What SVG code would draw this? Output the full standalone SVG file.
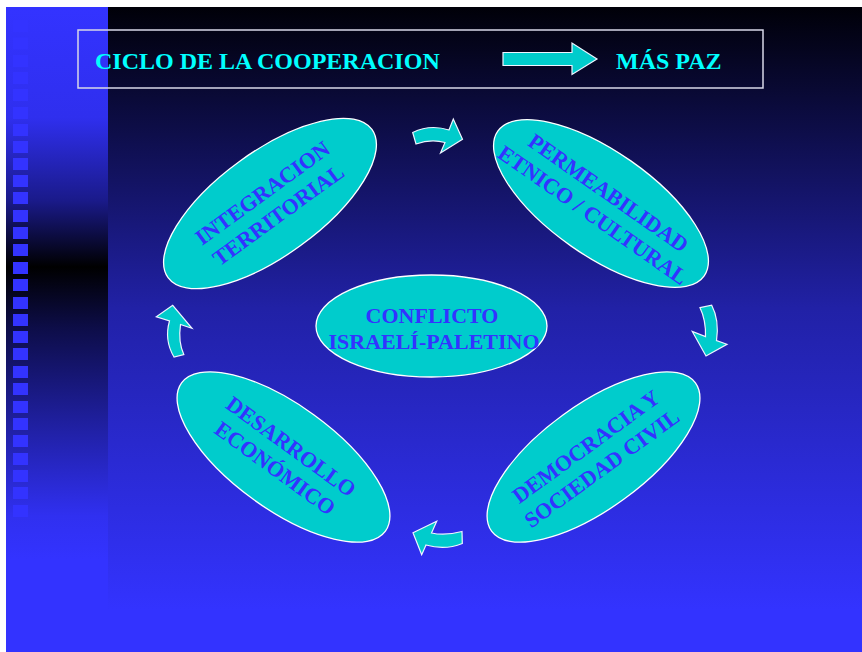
<svg xmlns="http://www.w3.org/2000/svg" width="862" height="652" viewBox="0 0 862 652">
<defs>
<linearGradient id="bg" x1="0" y1="7" x2="0" y2="610" gradientUnits="userSpaceOnUse">
<stop offset="0" stop-color="#000008"/>
<stop offset="0.5" stop-color="#2121a6"/>
<stop offset="1" stop-color="#3333ff"/>
</linearGradient>
<linearGradient id="strip" x1="0" y1="7" x2="0" y2="560" gradientUnits="userSpaceOnUse">
<stop offset="0" stop-color="#3333ff"/>
<stop offset="0.2" stop-color="#2f2fee"/>
<stop offset="0.35" stop-color="#1a1a8a"/>
<stop offset="0.47" stop-color="#000000"/>
<stop offset="0.58" stop-color="#0d0d48"/>
<stop offset="0.75" stop-color="#1f1f9e"/>
<stop offset="0.92" stop-color="#3030f0"/>
<stop offset="1" stop-color="#3333ff"/>
</linearGradient>
<style>
.ell{fill:#00cccc;stroke:#ffffff;stroke-width:1.3}
.lbl{font-family:"Liberation Serif","Times New Roman",serif;font-weight:bold;font-size:22px;fill:#3333ff;text-anchor:middle}
.ttl{font-family:"Liberation Serif","Times New Roman",serif;font-weight:bold;font-size:24px;fill:#00ffff}
.arr{fill:#00cccc;stroke:#eef4ff;stroke-width:1.2;stroke-linejoin:miter}
.sq{fill:#3333ff}
</style>
</defs>
<rect x="0" y="0" width="862" height="652" fill="#ffffff"/>
<rect x="6" y="7" width="856" height="645" fill="url(#bg)"/>
<rect x="6" y="7" width="102" height="645" fill="url(#strip)"/>
<g id="squares">
<rect class="sq" x="13" y="20" width="15" height="12"/>
<rect class="sq" x="13" y="37.5" width="15" height="12"/>
<rect class="sq" x="13" y="55" width="15" height="12"/>
<rect class="sq" x="13" y="72" width="15" height="12"/>
<rect class="sq" x="13" y="89" width="15" height="12"/>
<rect class="sq" x="13" y="107" width="15" height="12"/>
<rect class="sq" x="13" y="124" width="15" height="12"/>
<rect class="sq" x="13" y="141" width="15" height="12"/>
<rect class="sq" x="13" y="158" width="15" height="12"/>
<rect class="sq" x="13" y="175" width="15" height="12"/>
<rect class="sq" x="13" y="192" width="15" height="12"/>
<rect class="sq" x="13" y="210" width="15" height="12"/>
<rect class="sq" x="13" y="227" width="15" height="12"/>
<rect class="sq" x="13" y="244" width="15" height="12"/>
<rect class="sq" x="13" y="262" width="15" height="12"/>
<rect class="sq" x="13" y="279" width="15" height="12"/>
<rect class="sq" x="13" y="297" width="15" height="12"/>
<rect class="sq" x="13" y="314" width="15" height="12"/>
<rect class="sq" x="13" y="331" width="15" height="12"/>
<rect class="sq" x="13" y="348" width="15" height="12"/>
<rect class="sq" x="13" y="366" width="15" height="12"/>
<rect class="sq" x="13" y="383" width="15" height="12"/>
<rect class="sq" x="13" y="401" width="15" height="12"/>
<rect class="sq" x="13" y="418" width="15" height="12"/>
<rect class="sq" x="13" y="435" width="15" height="12"/>
<rect class="sq" x="13" y="453" width="15" height="12"/>
<rect class="sq" x="13" y="470" width="15" height="12"/>
<rect class="sq" x="13" y="487" width="15" height="12"/>
<rect class="sq" x="13" y="505" width="15" height="12"/>
</g>
<g id="title">
<rect x="78" y="30" width="685" height="58" fill="none" stroke="#d8d8e8" stroke-width="1.5"/>
<text class="ttl" x="95" y="69">CICLO DE LA COOPERACION</text>
<path class="arr" d="M503,52.5 L572,52.5 L572,43 L597,59 L572,74.5 L572,65.5 L503,65.5 Z"/>
<text class="ttl" x="616" y="69">MÁS PAZ</text>
</g>
<g id="connectors">
<path class="arr" d="M412.7,132.5 Q430,124 449,130 L453.3,119 L462.5,139.3 L440.5,153 L445,142.5 Q431,138.5 416,144 Z"/>
<path class="arr" d="M700,307.7 L711.7,305.2 Q719.5,320 716.5,340.5 L727,344.3 L706,356 L692.3,331.5 L705.5,336.6 Q706,320 700,307.7 Z"/>
<path class="arr" d="M462,531.5 Q445,536 431.5,533 L436.7,521.3 L413,532.7 L421.7,554.7 L426,545 Q445,550.5 462.3,543.5 Z"/>
<path class="arr" d="M174,357 Q164,340 169.5,321 L156.3,316.7 L172.7,305.3 L192,328.3 L180.5,324.5 Q178,342 183.8,354.5 Z"/>
</g>
<g id="n-integracion" transform="translate(270,203.5) rotate(-36)">
<ellipse class="ell" cx="0" cy="0" rx="126" ry="52"/>
<text class="lbl" x="0" y="-5.5">INTEGRACION</text>
<text class="lbl" x="0" y="21.5">TERRITORIAL</text>
</g>
<g id="n-permeabilidad" transform="translate(601,203.5) rotate(35)">
<ellipse class="ell" cx="0" cy="0" rx="126" ry="52"/>
<text class="lbl" x="0" y="-5.5">PERMEABILIDAD</text>
<text class="lbl" x="0" y="21.5">ETNICO / CULTURAL</text>
</g>
<g id="n-conflicto">
<ellipse class="ell" cx="431.5" cy="326" rx="115.5" ry="51"/>
<text class="lbl" x="432" y="322.5">CONFLICTO</text>
<text class="lbl" x="434" y="348.5">ISRAELÍ-PALETINO</text>
</g>
<g id="n-desarrollo" transform="translate(283.5,457) rotate(36)">
<ellipse class="ell" cx="0" cy="0" rx="126" ry="52"/>
<text class="lbl" x="0" y="-5.5">DESARROLLO</text>
<text class="lbl" x="0" y="21.5">ECONÓMICO</text>
</g>
<g id="n-democracia" transform="translate(593.5,457) rotate(-36)">
<ellipse class="ell" cx="0" cy="0" rx="126" ry="52"/>
<text class="lbl" x="0" y="-5.5">DEMOCRACIA Y</text>
<text class="lbl" x="0" y="21.5">SOCIEDAD CIVIL</text>
</g>
</svg>
